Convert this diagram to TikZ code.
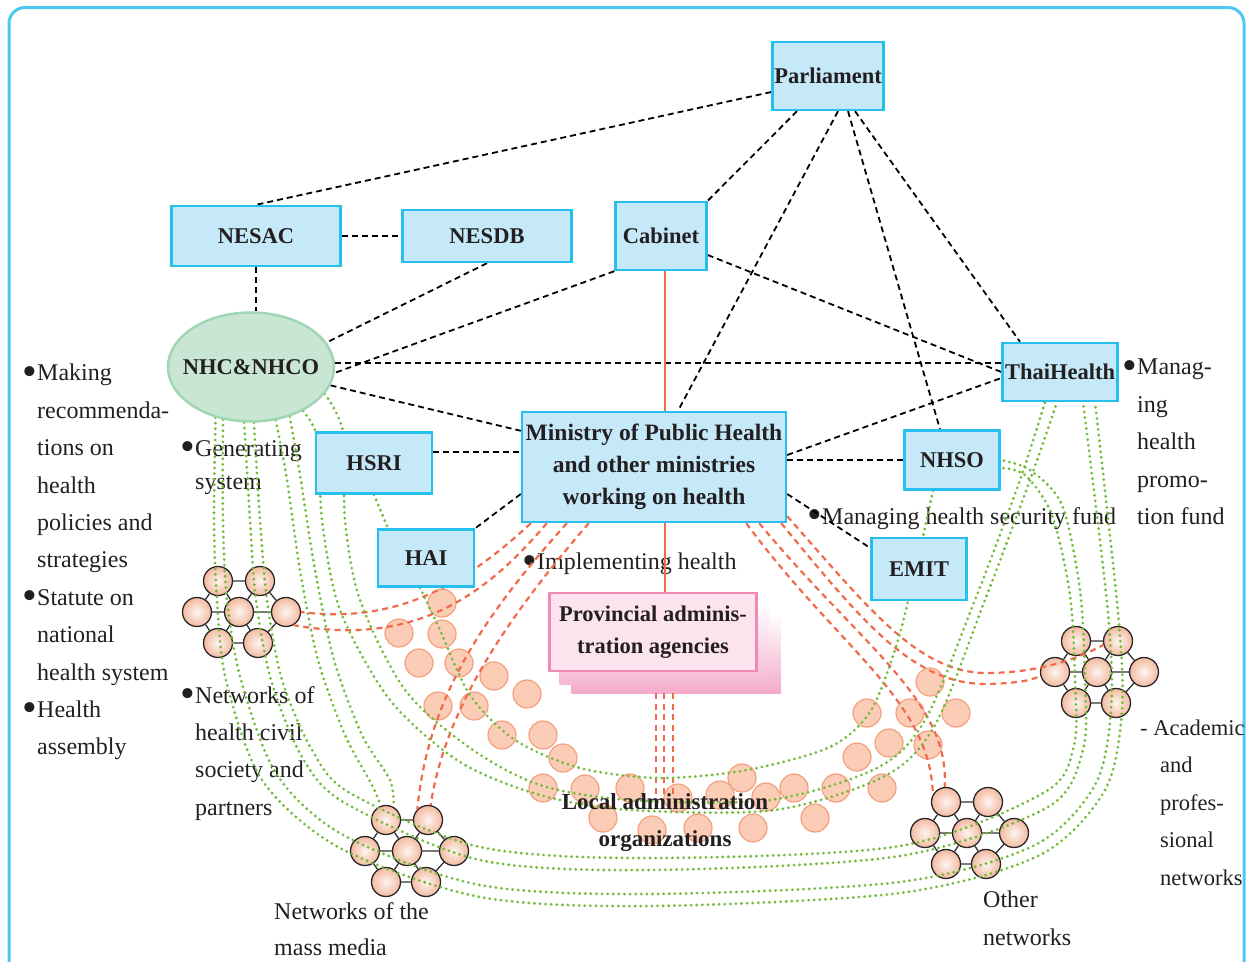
\documentclass[tikz,border=0pt]{standalone}
\usepackage{fontspec}
\setmainfont{Liberation Serif}
\usetikzlibrary{shapes.geometric,positioning,calc}

\definecolor{framecol}{RGB}{77,200,241}
\definecolor{boxfill}{RGB}{198,233,249}
\definecolor{boxline}{RGB}{39,190,240}
\definecolor{nhcfill}{RGB}{200,230,211}
\definecolor{nhcline}{RGB}{160,214,180}
\definecolor{provfill}{RGB}{252,228,238}
\definecolor{provline}{RGB}{238,138,181}
\definecolor{provshade}{RGB}{244,170,202}
\definecolor{redline}{RGB}{242,106,76}
\definecolor{greenline}{RGB}{112,188,58}
\definecolor{ballcol}{RGB}{243,186,160}
\definecolor{localfill}{RGB}{251,205,182}
\definecolor{localline}{RGB}{244,160,126}
\definecolor{inkcol}{RGB}{35,31,32}

\pgfdeclarelayer{back}
\pgfdeclarelayer{front}
\pgfsetlayers{back,main,front}

% bullet hanging in the margin
\newcommand{\blt}{\llap{\raisebox{-4.5pt}{\fontsize{42}{0}\selectfont\textbullet}}}

% one network: seven balls in a hexagon
\newcommand{\netcluster}[2]{%
  \foreach \pos/\dx/\dy in {tl/-21/-31, tr/21/-31, l/-42/0, c/0/0, r/47/0, bl/-21/31, br/19/31}
    \node[netball] (#1\pos) at ($(#2)+(\dx,\dy)$) {};
  \draw[netlink] (#1tl) -- (#1tr) -- (#1r) -- (#1br) -- (#1bl) -- (#1l) -- (#1tl)
    (#1c) -- (#1l) (#1c) -- (#1r) (#1c) -- (#1tl) (#1c) -- (#1tr) (#1c) -- (#1bl) (#1c) -- (#1br);
}

\begin{document}
\begin{tikzpicture}[x=1pt, y=-1pt,
    org/.style={rectangle, draw=boxline, fill=boxfill, line width=2.4pt, inner sep=0pt, align=center, text=inkcol, font=\fontsize{22.5}{32}\selectfont\bfseries},
    council/.style={ellipse, draw=nhcline, fill=nhcfill, line width=2.5pt, inner xsep=-12pt, inner ysep=0pt, minimum width=166pt, minimum height=109pt, text=inkcol, font=\fontsize{22.5}{27}\selectfont\bfseries},
    agency/.style={rectangle, draw=provline, fill=provfill, line width=2.5pt, inner sep=0pt, align=center, text=inkcol, font=\fontsize{22.5}{32}\selectfont\bfseries},
    netball/.style={circle, draw=black!85, line width=1.3pt, minimum size=29pt, inner sep=0pt, inner color=white!85!ballcol, outer color=ballcol},
    localball/.style={circle, draw=localline, fill=localfill, line width=1.2pt, minimum size=28pt, inner sep=0pt},
    netlink/.style={draw=black!80, line width=1.3pt},
    blacktie/.style={draw=black, line width=1.8pt, dash pattern=on 6pt off 4pt},
    redtie/.style={draw=redline, line width=2.2pt, dash pattern=on 6pt off 4.5pt},
    greentie/.style={draw=greenline, line width=3.1pt, line cap=round, dash pattern=on 0pt off 5.6pt},
    note/.style={anchor=north west, inner sep=0pt, align=left, text=inkcol, font=\fontsize{24}{37.4}\selectfont}
]
\useasboundingbox (0,0) rectangle (1246,961);

% Organisations
\begin{pgfonlayer}{front}
  \node[org, minimum width=111pt, minimum height=68pt] (parl) at (828,76) {Parliament};
  \node[org, minimum width=169pt, minimum height=60pt] (nesac) at (256,236) {NESAC};
  \node[org, minimum width=169pt, minimum height=52pt] (nesdb) at (487,236) {NESDB};
  \node[org, minimum width=91pt, minimum height=68pt] (cabinet) at (661,236) {Cabinet};
  \node[council] (nhc) at (251,367) {NHC\&NHCO};
  \node[org, minimum width=115pt, minimum height=58pt] (thai) at (1060,372) {ThaiHealth};
  \node[org, minimum width=116pt, minimum height=61pt] (hsri) at (374,463) {HSRI};
  \node[org, minimum width=264pt, minimum height=110pt, font=\fontsize{23.5}{32}\selectfont\bfseries] (ministry) at (654,467) {Ministry of Public Health\\and other ministries\\working on health};
  \node[org, minimum width=95pt, minimum height=59pt] (nhso) at (952,460) {NHSO};
  \node[org, minimum width=96pt, minimum height=57pt] (hai) at (426,558) {HAI};
  \node[org, minimum width=95pt, minimum height=62pt] (emit) at (919,569) {EMIT};
  \node[agency, minimum width=207pt, minimum height=78pt] (prov) at (653,632) {Provincial adminis-\\tration agencies};
  \node[align=center, inner sep=0pt, text=inkcol, font=\fontsize{23}{37}\selectfont\bfseries] (local) at (665,823) {Local administration\\organizations};
\end{pgfonlayer}

\begin{pgfonlayer}{back}
  \draw[framecol, line width=3pt, rounded corners=16pt] (9,7.5) rectangle (1244,1000);
  % Local administration organizations
  \foreach \lx/\ly [count=\k] in {442/603, 399/633, 442/634, 419/663, 459/663, 494/676, 527/694, 438/706, 474/706,
      502/735, 543/735, 563/758, 543/788, 585/789, 630/788, 678/798, 720/795, 742/778, 766/797, 794/788, 836/788,
      882/788, 603/818, 652/830, 698/828, 753/828, 815/818, 857/757, 889/743, 928/745, 867/713, 910/713, 956/713, 930/682}
    \node[localball] (loc\k) at (\lx,\ly) {};
  % Networks
  \netcluster{a}{239,612}
  \netcluster{b}{407,851}
  \netcluster{c}{967,833}
  \netcluster{d}{1097,672}
  % shadow of provincial box
  \shade[top color=white, bottom color=provshade] ([xshift=23pt,yshift=-21pt]prov.south west) rectangle ([xshift=23pt,yshift=-21pt]prov.north east);
  \shade[top color=white, bottom color=provshade!85] ([xshift=11pt,yshift=-12pt]prov.south west) rectangle ([xshift=11pt,yshift=-12pt]prov.north east);
  % Roles
  \node[note] (rolesnhc) at (37,364) {\blt Making\\recommenda-\\tions on\\health\\policies and\\strategies\\\blt Statute on\\national\\health system\\\blt Health\\assembly};
  \node[note, font=\fontsize{24}{33}\selectfont] (rolesgen) at (195,440) {\blt Generating\\system};
  \node[note] (civil) at (195,686) {\blt Networks of\\health civil\\society and\\partners};
  \node[note, font=\fontsize{24}{36}\selectfont] (media) at (274,902) {Networks of the\\mass media};
  \node[note] (rolesmoph) at (537,553) {\blt Implementing health};
  \node[note] (rolesnhso) at (822,507) {\blt Managing health security fund};
  \node[note] (rolesthai) at (1137,359) {\blt Manag-\\ing\\health\\promo-\\tion fund};
  \node[note, font=\fontsize{22.5}{37.4}\selectfont] (academic) at (1140,720) {- Academic};
  \node[note, font=\fontsize{22.5}{37.4}\selectfont] (academic2) at (1160,757) {and\\profes-\\sional\\networks};
  \node[note] (other) at (983,891) {Other\\networks};
\end{pgfonlayer}

% Links between organisations
\draw[blacktie] ([yshift=-16pt]parl.west) -- (nesac.north);
\draw[blacktie] ([xshift=-31pt]parl.south) -- (cabinet.north east);
\draw[blacktie] ([xshift=10pt]parl.south) -- ([xshift=24pt]ministry.north);
\draw[blacktie] ([xshift=20pt]parl.south) -- ([xshift=-12pt]nhso.north);
\draw[blacktie] ([xshift=27pt]parl.south) -- ([xshift=-40pt]thai.north);
\draw[blacktie] (nesac.east) -- (nesdb.west);
\draw[blacktie] (nesac.south) -- (nesac.south |- nhc.north);
\draw[blacktie] (nesdb.south) -- (nhc.18);
\draw[blacktie] (cabinet.south west) -- (nhc.-4);
\draw[blacktie] (nhc.3) -- (nhc.3 -| thai.west);
\draw[blacktie] (nhc.-13) -- ([yshift=-20pt]ministry.north west);
\draw[blacktie] ([yshift=-19pt]cabinet.east) -- (thai.west);
\draw[blacktie] ([yshift=11pt]hsri.east) -- ([yshift=11pt]hsri.east -| ministry.west);
\draw[blacktie] ([yshift=12pt]ministry.east) -- ([yshift=-6pt]thai.west);
\draw[blacktie] (ministry.east |- nhso.west) -- (nhso.west);
\draw[blacktie] ([yshift=-27pt]ministry.west) -- (hai.north east);
\draw[blacktie] ([yshift=-27pt]ministry.east) -- ([yshift=21pt]emit.west);

% Line of command
\draw[redline, line width=2pt] ([xshift=4pt]cabinet.south) -- ([xshift=4pt]cabinet.south |- ministry.north);
\draw[redline, line width=2pt] ([xshift=4pt]cabinet.south |- ministry.south) -- ([xshift=4pt]cabinet.south |- prov.north);
\foreach \dx in {3,11,20}
  \draw[redtie] ([xshift=\dx pt, yshift=-21pt]prov.south) -- ([xshift=\dx pt]prov.south |- local.north);

% Ministry to the networks
\draw[redtie] ([xshift=10pt]ministry.south west) .. controls (470,580) and (400,625) .. (ar.east);
\draw[redtie] ([xshift=26pt]ministry.south west) .. controls (490,590) and (420,648) .. (ar.-60);
\draw[redtie] ([xshift=46pt]ministry.south west) .. controls (480,620) and (428,700) .. (btr.135);
\draw[redtie] ([xshift=68pt]ministry.south west) .. controls (505,620) and (445,710) .. (btr.80);
\draw[redtie] ([xshift=-41pt]ministry.south east) .. controls (840,650) and (930,700) .. (ctl.150);
\draw[redtie] ([xshift=-28pt]ministry.south east) .. controls (860,645) and (950,700) .. (ctl.95);
\draw[redtie] ([yshift=7pt]ministry.south east) .. controls (870,610) and (920,675) .. (990,673) .. controls (1040,672) and (1075,660) .. (dtr.195);
\draw[redtie] ([xshift=-6pt]ministry.south east) .. controls (865,625) and (915,686) .. (990,684) .. controls (1015,683) and (1030,681) .. (dl.195);

% Green ties
\coordinate (thaiR1) at ([xshift=35pt]thai.south);
\coordinate (thaiR2) at ([xshift=23pt]thai.south);
\coordinate (thaiL1) at ([xshift=-15pt]thai.south);
\coordinate (thaiL2) at ([xshift=-3pt]thai.south);
\coordinate (nhsoR1) at (nhso.east);
\coordinate (nhsoR2) at ([yshift=-8pt]nhso.east);
\coordinate (haiG) at ([xshift=-6pt]hai.south);
\coordinate (emitG) at ([xshift=-11pt]emit.south);

\draw[greentie] plot[smooth] coordinates {(nhc.-125) (214,520) (217,600) (226,680) (262,780) (340,848) (480,897) (650,906) (900,893) (1040,855) (1105,790) (1122,710) (1118,613) (thaiR1)};
\draw[greentie] plot[smooth] coordinates {(nhc.-118) (223,520) (227,600) (241,680) (277,775) (345,836) (480,885) (650,894) (900,882) (1035,845) (1095,785) (1111,710) (1108,613) (thaiR2)};
\draw[greentie] plot[smooth] coordinates {(nhc.-97) (250,520) (256,600) (271,680) (302,757) (345,803) (480,860) (650,870) (900,856) (1048,807) (1083,750) (1085,680) (1080,590) (1062,505) (1030,470) (nhsoR1)};
\draw[greentie] plot[smooth] coordinates {(nhc.-87) (260,520) (267,600) (282,680) (312,750) (350,793) (480,847) (650,858) (900,846) (1045,792) (1074,745) (1075,680) (1070,595) (1052,515) (1025,475) (nhsoR2)};
\draw[greentie] plot[smooth] coordinates {(nhc.-65) (287,480) (300,570) (318,660) (345,735) (372,785) (btl.110)};
\draw[greentie] plot[smooth] coordinates {(nhc.-52) (300,475) (315,570) (334,660) (362,735) (390,780) (btl.60)};
\draw[greentie] plot[smooth] coordinates {(nhc.-20) (343,432) (345,520) (360,600) (405,690) (470,748) (540,785) (630,800) (770,800) (877,768) (925,720) (975,600) (1020,480) (thaiL1)};
\draw[greentie] plot[smooth] coordinates {(nhc.-40) (318,440) (322,520) (340,610) (390,700) (460,762) (540,795) (630,810) (775,810) (885,776) (935,725) (985,600) (1030,480) (thaiL2)};
\draw[greentie] plot[smooth] coordinates {(haiG) (440,630) (470,695) (515,740) (580,768) (660,778) (747,770) (830,747) (870,712) (895,650) (emitG)};
\draw[greentie] (hsri.south) -- ([xshift=-38pt]hai.north);
\draw[greentie] ([xshift=-19pt]nhso.south) -- ([xshift=4pt]emit.north);
\end{tikzpicture}
\end{document}
